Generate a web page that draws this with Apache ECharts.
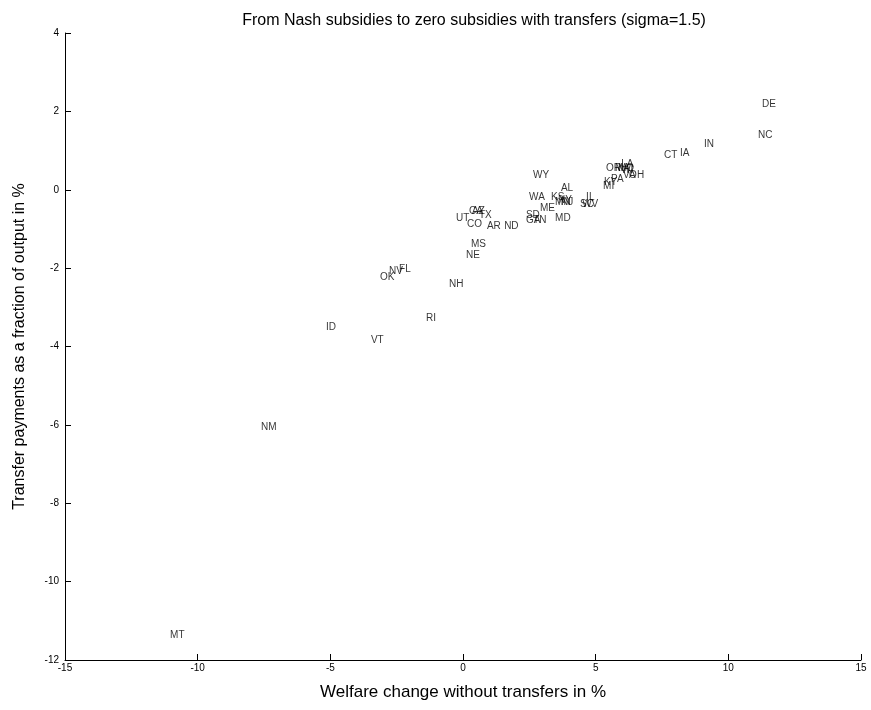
<!DOCTYPE html>
<html>
<head>
<meta charset="utf-8">
<script src="https://cdn.jsdelivr.net/npm/echarts@6/dist/echarts.min.js"></script>
<style>
  html, body { margin: 0; padding: 0; background: #fff; }
  #main { width: 871px; height: 710px; }
</style>
</head>
<body>
<div id="main"></div>
<script>
// state labels and their positions (welfare change %, transfers % of output)
const states = ['DE', 'NC', 'IN', 'IA', 'CT', 'LA', 'OR', 'MA', 'MO', 'WI', 'VA', 'OH',
  'KY', 'PA', 'MI', 'WY', 'AL', 'IL', 'WA', 'KS', 'NY', 'MN', 'NJ', 'SC', 'WV', 'ME',
  'SD', 'GA', 'TN', 'MD', 'AZ', 'CA', 'TX', 'UT', 'CO', 'AR', 'ND', 'MS', 'NE', 'NV',
  'FL', 'OK', 'NH', 'RI', 'ID', 'VT', 'NM', 'MT'];
const welfare = [11.27, 11.12, 9.08, 8.18, 7.58, 5.96, 5.39, 5.73, 5.84, 5.96, 6.03, 6.26,
  5.31, 5.58, 5.28, 2.64, 3.69, 4.64, 2.49, 3.32, 3.58, 3.47, 3.69, 4.41, 4.49, 2.90,
  2.37, 2.37, 2.64, 3.47, 0.34, 0.23, 0.60, -0.26, 0.15, 0.90, 1.55, 0.30, 0.11, -2.79,
  -2.41, -3.13, -0.53, -1.39, -5.16, -3.47, -7.61, -11.04];
const transfers = [2.19, 1.40, 1.17, 0.94, 0.87, 0.66, 0.56, 0.54, 0.56, 0.51, 0.36, 0.36,
  0.20, 0.26, 0.08, 0.38, 0.05, -0.18, -0.18, -0.18, -0.26, -0.33, -0.33, -0.36, -0.36, -0.46,
  -0.64, -0.77, -0.77, -0.74, -0.56, -0.56, -0.66, -0.74, -0.87, -0.94, -0.94, -1.38, -1.68, -2.07,
  -2.02, -2.24, -2.40, -3.27, -3.52, -3.85, -6.05, -11.38];

const font = 'Liberation Sans, Arial, sans-serif';
const chart = echarts.init(document.getElementById('main'));

// each point is just its text, left-aligned at the data position (like matlab text())
const points = states.map((s, i) => ({ name: s, value: [welfare[i], transfers[i]] }));

chart.setOption({
  animation: false,
  backgroundColor: '#fff',
  title: {
    text: 'From Nash subsidies to zero subsidies with transfers (sigma=1.5)',
    left: 469,
    top: 8,
    textAlign: 'center',
    textStyle: { fontFamily: font, fontSize: 16, fontWeight: 'normal', color: '#000' }
  },
  grid: { left: 65, right: 10, top: 33, bottom: 50 },
  xAxis: {
    type: 'value',
    min: -15, max: 15, interval: 5,
    name: 'Welfare change without transfers in %',
    nameLocation: 'middle',
    nameGap: 24,
    nameTextStyle: { fontFamily: font, fontSize: 17, color: '#000' },
    axisLine: { onZero: false, lineStyle: { color: '#000', width: 1 } },
    axisTick: { inside: true, length: 6, lineStyle: { color: '#000' } },
    axisLabel: { fontFamily: font, fontSize: 10, color: '#000', margin: 3 },
    splitLine: { show: false }
  },
  yAxis: {
    type: 'value',
    min: -12, max: 4, interval: 2,
    name: 'Transfer payments as a fraction of output in %',
    nameLocation: 'middle',
    nameGap: 37,
    nameTextStyle: { fontFamily: font, fontSize: 16, color: '#000' },
    axisLine: { onZero: false, lineStyle: { color: '#000', width: 1 } },
    axisTick: { inside: true, length: 6, lineStyle: { color: '#000' } },
    axisLabel: { fontFamily: font, fontSize: 10, color: '#000', margin: 6 },
    splitLine: { show: false }
  },
  series: [{
    type: 'scatter',
    symbolSize: 0,
    data: points,
    label: {
      show: true,
      position: 'right',
      distance: 0,
      formatter: p => p.name,
      fontFamily: font,
      fontSize: 10,
      color: '#000'
    },
    labelLayout: { hideOverlap: false }
  }]
});
</script>
</body>
</html>
